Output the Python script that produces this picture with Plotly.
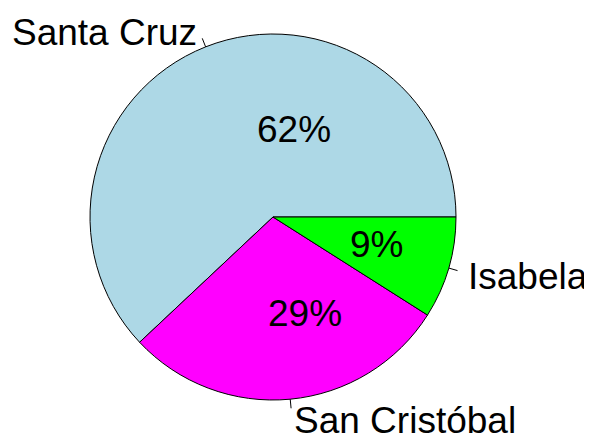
import math
import plotly.graph_objects as go

labels = ["Santa Cruz", "San Cristóbal", "Isabela"]
values = [62, 29, 9]
pct_labels = ["62%", "29%", "9%"]
colors = ["#ADD8E6", "#FF00FF", "#00FF00"]

# the page body has an 8px margin, so the figure is drawn 8px in from the top-left
OFF = 8
W, H = 592 - OFF, 439 - OFF
CX, CY, R = 273 - OFF, 217 - OFF, 183  # pixel centre and radius of the pie

def px(x):
    return x / W

def py(y):
    return 1 - y / H

total = sum(values)
# plotly counterclockwise: first slice ends at `rotation`; make it start at 3 o'clock
rotation = 90 - 360 * values[0] / total

fig = go.Figure(go.Pie(
    labels=labels,
    values=values,
    sort=False,
    direction="counterclockwise",
    rotation=rotation,
    marker=dict(colors=colors, line=dict(color="black", width=1)),
    textinfo="none",
    hoverinfo="label+percent",
    showlegend=False,
    domain=dict(x=[px(CX - R), px(CX + R)], y=[py(CY + R), py(CY - R)]),
))

font = dict(family="Liberation Sans, Arial, sans-serif", size=37, color="black")
annotations = []
shapes = []
cum = 0
for lab, v in zip(labels, values):
    mid = 2 * math.pi * (cum + v / 2) / total
    cum += v
    c, s = math.cos(mid), math.sin(mid)
    shapes.append(dict(type="line", xref="paper", yref="paper",
                       x0=px(CX + R * c), y0=py(CY - R * s),
                       x1=px(CX + 1.05 * R * c), y1=py(CY - 1.05 * R * s),
                       line=dict(color="black", width=1)))
    annotations.append(dict(text=lab, xref="paper", yref="paper",
                            x=px(CX + 1.1 * R * c), y=py(CY - 1.1 * R * s + 3),
                            xanchor="left" if c > 0 else "right", yanchor="middle",
                            showarrow=False, font=font))

# percentage labels (positions in page pixels)
pct_pos = [(294, 129), (305, 313), (376, 244)]
for t, (x, y) in zip(pct_labels, pct_pos):
    annotations.append(dict(text=t, xref="paper", yref="paper",
                            x=px(x - OFF), y=py(y - OFF), xanchor="center", yanchor="middle",
                            showarrow=False, font=font))

fig.update_layout(
    width=W, height=H,
    margin=dict(l=0, r=0, t=0, b=0),
    paper_bgcolor="white", plot_bgcolor="white",
    annotations=annotations, shapes=shapes,
)

fig.write_html("out.html")
